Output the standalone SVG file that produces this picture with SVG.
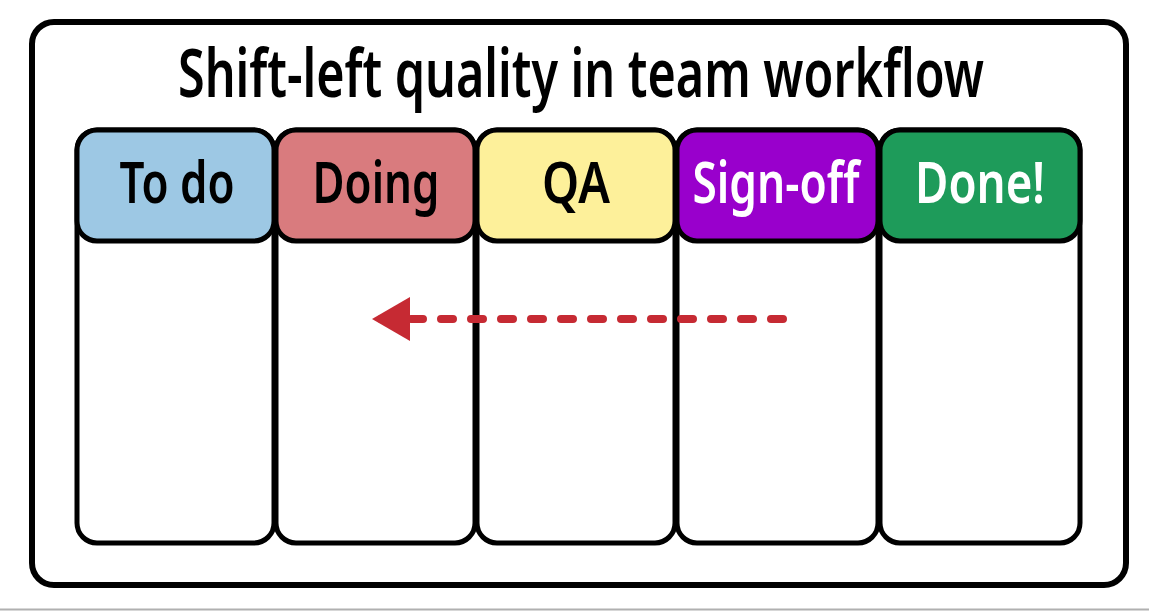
<svg xmlns="http://www.w3.org/2000/svg" width="1149" height="611" viewBox="0 0 1149 611">
<style>
.frame{fill:#fff;stroke:#000;stroke-width:6}
.col{fill:#fff;stroke:#000;stroke-width:5}
.hdr{stroke:#000;stroke-width:5}
.lbl{font-family:"Noto Sans","Open Sans",sans-serif;font-weight:600;font-size:58px;text-anchor:middle}
.title{font-family:"Noto Sans","Open Sans",sans-serif;font-weight:600;font-size:66px;text-anchor:middle;fill:#000}
.conn{fill:none;stroke:#c62a33;stroke-width:8;stroke-linecap:round;stroke-dasharray:12 18}
</style>
<defs>
<marker id="ah" markerUnits="userSpaceOnUse" markerWidth="40" markerHeight="44" refX="38" refY="22" orient="auto">
<path d="M0,0 L38,22 L0,44 Z" fill="#c62a33"/>
</marker>
</defs>
<rect width="1149" height="611" fill="#fff"/>
<line x1="0" y1="609.5" x2="1149" y2="609.5" stroke="#b0b0b0" stroke-width="2"/>
<g id="frame">
<rect class="frame" x="32" y="22" width="1094" height="563" rx="22"/>
<text class="title" x="581" y="97" textLength="806" lengthAdjust="spacingAndGlyphs">Shift-left quality in team workflow</text>
</g>
<g id="col-todo">
<rect class="col" x="77" y="130" width="197" height="413" rx="20"/>
<rect class="hdr" x="77" y="130" width="197" height="111" rx="20" fill="#9dc8e4"/>
<text class="lbl" x="177" y="203" fill="#000" textLength="115" lengthAdjust="spacingAndGlyphs">To do</text>
</g>
<g id="col-doing">
<rect class="col" x="276" y="130" width="199" height="413" rx="20"/>
<rect class="hdr" x="276" y="130" width="199" height="111" rx="20" fill="#d97b7e"/>
<text class="lbl" x="376" y="203" fill="#000" textLength="127" lengthAdjust="spacingAndGlyphs">Doing</text>
</g>
<g id="col-qa">
<rect class="col" x="477" y="130" width="198" height="413" rx="20"/>
<rect class="hdr" x="477" y="130" width="198" height="111" rx="20" fill="#fdf09a"/>
<text class="lbl" x="576" y="203" fill="#000" textLength="68" lengthAdjust="spacingAndGlyphs">QA</text>
</g>
<g id="col-signoff">
<rect class="col" x="677" y="130" width="201" height="413" rx="20"/>
<rect class="hdr" x="677" y="130" width="201" height="111" rx="20" fill="#9900cc"/>
<text class="lbl" x="776" y="203" fill="#fff" textLength="167" lengthAdjust="spacingAndGlyphs">Sign-off</text>
</g>
<g id="col-done">
<rect class="col" x="880" y="130" width="200" height="413" rx="20"/>
<rect class="hdr" x="880" y="130" width="200" height="111" rx="20" fill="#1e9b5a"/>
<text class="lbl" x="980" y="203" fill="#fff" textLength="130" lengthAdjust="spacingAndGlyphs">Done!</text>
</g>
<g id="connectors">
<line class="conn" x1="783" y1="319" x2="372" y2="319" marker-end="url(#ah)"/>
</g>
</svg>
